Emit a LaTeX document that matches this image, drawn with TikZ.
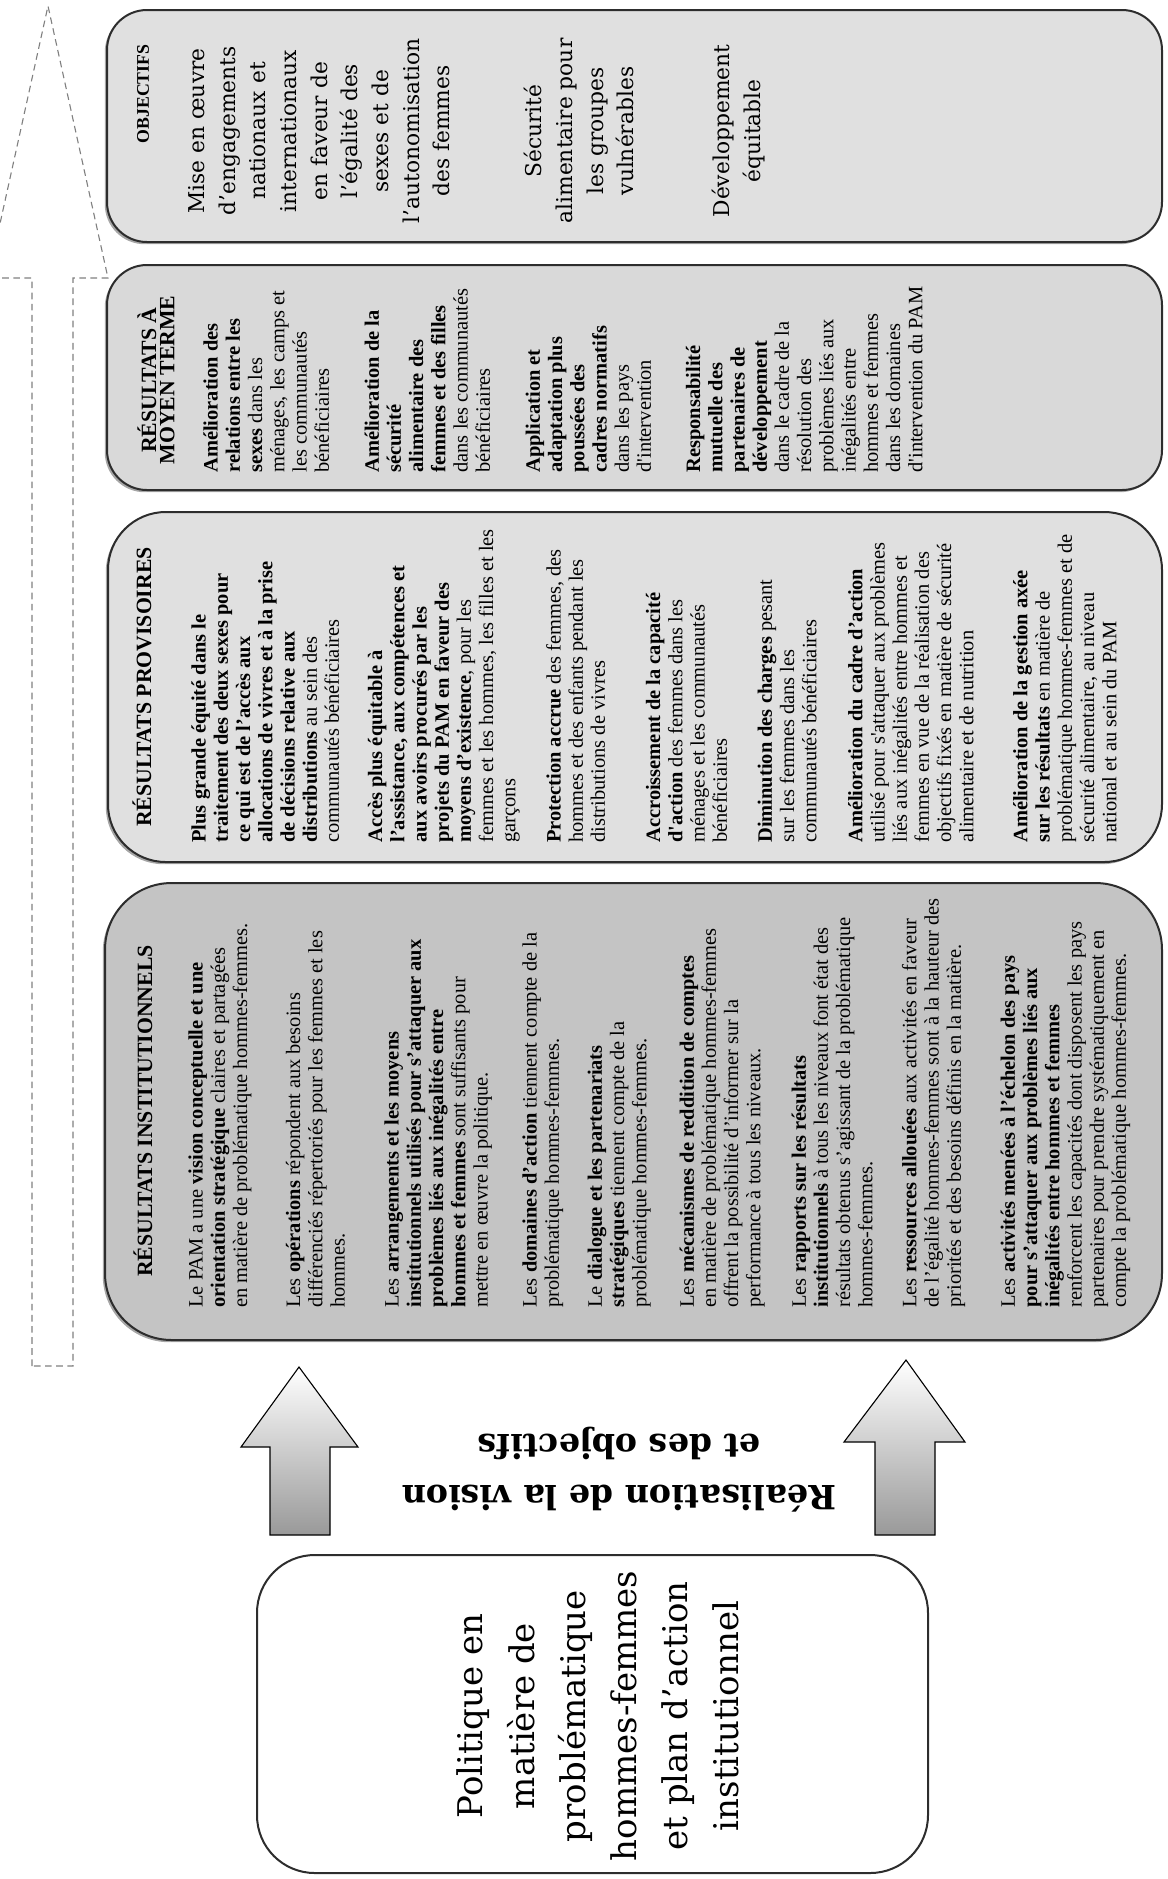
\documentclass[tikz,border=0pt]{standalone}
\usepackage{fontspec}
\setmainfont{Liberation Serif}
\newfontfamily\bookfont{DejaVu Serif}
\usetikzlibrary{positioning}
\definecolor{instGray}{RGB}{196,196,196}
\definecolor{provGray}{RGB}{224,224,224}
\definecolor{midGray}{RGB}{217,217,217}
\definecolor{objGray}{RGB}{224,224,224}
\definecolor{edgeGray}{RGB}{45,45,45}
\definecolor{dashGray}{RGB}{128,128,128}
\newcommand{\bodysize}{\fontsize{9.2}{10}\selectfont}
\newcommand{\sq}{\textquotesingle}

\begin{document}
\begin{tikzpicture}[x=0.45pt, y=-0.45pt,
    panel/.style={draw=edgeGray, line width=0.9pt},
    drop/.style={fill=black!35, draw=none, xshift=-1pt, yshift=-1pt},
    head/.style={rotate=90, align=center, inner sep=0pt,
                 font=\fontsize{9.8}{8.2}\selectfont\bfseries},
    body/.style={rotate=90, anchor=north west, align=left, inner sep=0pt,
                 font=\bodysize},
    goal/.style={rotate=90, anchor=north, align=center, inner sep=0pt,
                 font=\bookfont\fontsize{9.8}{13.8}\selectfont},
    bigarrow/.style={draw=black, line width=0.5pt, top color=white,
                     bottom color=black!40}
  ]
  \useasboundingbox (0,0) rectangle (1168,1879);

  % dashed arrow along the four columns
  \draw[dashGray, line width=0.5pt, dash pattern=on 3pt off 2pt]
    (32,1366) -- (32,278) -- (-12,278) -- (48,6) -- (108,278)
    -- (73,278) -- (73,1366) -- cycle;

  % panels
  \draw[drop, rounded corners=18pt] (107,10)  rectangle (1162,242);
  \draw[drop, rounded corners=18pt] (107,265) rectangle (1162,490);
  \draw[drop, rounded corners=26pt] (108,512) rectangle (1162,862);
  \draw[drop, rounded corners=30pt] (105,883) rectangle (1162,1340);
  \draw[panel, fill=objGray,  rounded corners=18pt] (107,10)  rectangle (1162,242);
  \draw[panel, fill=midGray,  rounded corners=18pt] (107,265) rectangle (1162,490);
  \draw[panel, fill=provGray, rounded corners=26pt] (108,512) rectangle (1162,862);
  \draw[panel, fill=instGray, rounded corners=30pt] (105,883) rectangle (1162,1340);
  \draw[panel, fill=white,    rounded corners=26pt] (257,1555) rectangle (928,1873);

  % block arrows
  \shadedraw[bigarrow] (270,1535) -- (270,1447) -- (241,1447) -- (299,1367)
    -- (358,1447) -- (330,1447) -- (330,1535) -- cycle;
  \shadedraw[bigarrow] (875,1535) -- (875,1442) -- (844,1442) -- (906,1360)
    -- (965,1442) -- (935,1442) -- (935,1535) -- cycle;

  \node[rotate=90, align=center, inner sep=0pt,
        font=\bookfont\fontsize{15.3}{23}\selectfont] (policy) at (598,1716)
    {Politique en\\ matière de\\ problématique\\ hommes-femmes\\
     et plan d’action\\ institutionnel};
  \node[rotate=180, align=center, inner sep=0pt,
        font=\bookfont\bfseries\fontsize{15}{23}\selectfont] (vision) at (619,1470)
    {Réalisation de la vision\\ et des objectifs};

  % titles
  \node[head] (instTitle) at (143,1111) {RÉSULTATS INSTITUTIONNELS};
  \node[head] (provTitle) at (142,687) {RÉSULTATS PROVISOIRES};
  \node[head] (midTitle)  at (156,380) {RÉSULTATS À\\ MOYEN TERME};
  \node[head, font=\fontsize{8}{8}\selectfont\bfseries] (objTitle) at (143,94) {OBJECTIFS};

  % institutional results
  \node[body] (instText) at (188,1308) {%
    Le PAM a une \textbf{vision conceptuelle et une}\\
    \textbf{orientation stratégique} claires et partagées\\
    en matière de problématique hommes-femmes.\\[13.9pt]
    Les \textbf{opérations} répondent aux besoins\\
    différenciés répertoriés pour les femmes et les\\
    hommes.\\[14.3pt]
    Les \textbf{arrangements et les moyens}\\
    \textbf{institutionnels utilisés pour s’attaquer aux}\\
    \textbf{problèmes liés aux inégalités entre}\\
    \textbf{hommes et femmes} sont suffisants pour\\
    mettre en œuvre la politique.\\[12.1pt]
    Les \textbf{domaines d’action} tiennent compte de la\\
    problématique hommes-femmes.\\[9.4pt]
    Le \textbf{dialogue et les partenariats}\\
    \textbf{stratégiques} tiennent compte de la\\
    problématique hommes-femmes.\\[11.3pt]
    Les \textbf{mécanismes de reddition de comptes}\\
    en matière de problématique hommes-femmes\\
    offrent la possibilité d’informer sur la\\
    performance à tous les niveaux.\\[10.4pt]
    Les \textbf{rapports sur les résultats}\\
    \textbf{institutionnels} à tous les niveaux font état des\\
    résultats obtenus s’agissant de la problématique\\
    hommes-femmes.\\[9.8pt]
    Les \textbf{ressources allouées} aux activités en faveur\\
    de l’égalité hommes-femmes sont à la hauteur des\\
    priorités et des besoins définis en la matière.\\[14.3pt]
    Les \textbf{activités menées à l’échelon des pays}\\
    \textbf{pour s’attaquer aux problèmes liés aux}\\
    \textbf{inégalités entre hommes et femmes}\\
    renforcent les capacités dont disposent les pays\\
    partenaires pour prendre systématiquement en\\
    compte la problématique hommes-femmes.};

  % interim results
  \node[body] (provText) at (191,843) {%
    \textbf{Plus grande équité dans le}\\
    \textbf{traitement des deux sexes pour}\\
    \textbf{ce qui est de l’accès aux}\\
    \textbf{allocations de vivres et à la prise}\\
    \textbf{de décisions relative aux}\\
    \textbf{distributions} au sein des\\
    communautés bénéficiaires\\[9.4pt]
    \textbf{Accès plus équitable à}\\
    \textbf{l’assistance, aux compétences et}\\
    \textbf{aux avoirs procurés par les}\\
    \textbf{projets du PAM en faveur des}\\
    \textbf{moyens d’existence}, pour les\\
    femmes et les hommes, les filles et les\\
    garçons\\[10.3pt]
    \textbf{Protection accrue} des femmes, des\\
    hommes et des enfants pendant les\\
    distributions de vivres\\[14.8pt]
    \textbf{Accroissement de la capacité}\\
    \textbf{d\sq action} des femmes dans les\\
    ménages et les communautés\\
    bénéficiaires\\[10.3pt]
    \textbf{Diminution des charges} pesant\\
    sur les femmes dans les\\
    communautés bénéficiaires\\[10.7pt]
    \textbf{Amélioration du cadre d’action}\\
    utilisé pour s\sq attaquer aux problèmes\\
    liés aux inégalités entre hommes et\\
    femmes en vue de la réalisation des\\
    objectifs fixés en matière de sécurité\\
    alimentaire et de nutrition\\[14.3pt]
    \textbf{Amélioration de la gestion axée}\\
    \textbf{sur les résultats} en matière de\\
    problématique hommes-femmes et de\\
    sécurité alimentaire, au niveau\\
    national et au sein du PAM};

  % medium-term results
  \node[body] (midText) at (203,473) {%
    \textbf{Amélioration des}\\
    \textbf{relations entre les}\\
    \textbf{sexes} dans les\\
    ménages, les camps et\\
    les communautés\\
    bénéficiaires\\[12.5pt]
    \textbf{Amélioration de la}\\
    \textbf{sécurité}\\
    \textbf{alimentaire des}\\
    \textbf{femmes et des filles}\\
    dans les communautés\\
    bénéficiaires\\[12.5pt]
    \textbf{Application et}\\
    \textbf{adaptation plus}\\
    \textbf{poussées des}\\
    \textbf{cadres normatifs}\\
    dans les pays\\
    d\sq intervention\\[12.1pt]
    \textbf{Responsabilité}\\
    \textbf{mutuelle des}\\
    \textbf{partenaires de}\\
    \textbf{développement}\\
    dans le cadre de la\\
    résolution des\\
    problèmes liés aux\\
    inégalités entre\\
    hommes et femmes\\
    dans les domaines\\
    d\sq intervention du PAM};

  % objectives
  \node[goal] (objText) at (188,131) {%
    Mise en œuvre\\ d’engagements\\ nationaux et\\ internationaux\\
    en faveur de\\ l’égalité des\\ sexes et de\\ l’autonomisation\\
    des femmes\\[27.6pt]
    Sécurité\\ alimentaire pour\\ les groupes\\ vulnérables\\[29.4pt]
    Développement\\ équitable};
\end{tikzpicture}
\end{document}
